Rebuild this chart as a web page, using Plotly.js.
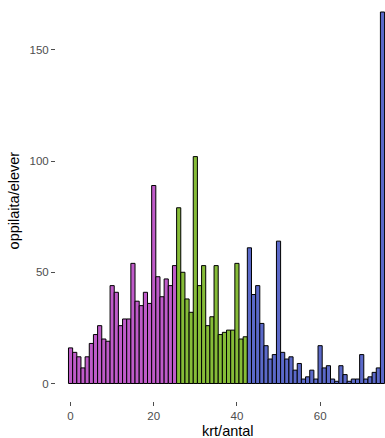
<!DOCTYPE html>
<html>
<head>
<meta charset="utf-8">
<script src="https://cdn.plot.ly/plotly-3.0.1.min.js"></script>
<style>html,body{margin:0;padding:0;background:#fff;}#chart{width:385px;height:438px;}</style>
</head>
<body>
<div id="chart"></div>
<script>
const xGroup1 = [0,1,2,3,4,5,6,7,8,9,10,11,12,13,14,15,16,17,18,19,20,21,22,23,24,25];
const yGroup1 = [16,14,12,7,12,18,22,26,20,19,44,41,26,29,29,54,37,35,41,36,89,48,39,47,44,53];
const xGroup2 = [26,27,28,29,30,31,32,33,34,35,36,37,38,39,40,41,42];
const yGroup2 = [79,50,38,32,102,44,53,26,30,53,22,23,24,24,54,20,21];
const xGroup3 = [43,44,45,46,47,48,49,50,51,52,53,54,55,56,57,58,59,60,61,62,63,64,65,66,67,68,69,70,71,72,73,74,75];
const yGroup3 = [61,40,44,27,17,11,13,64,14,11,12,6,9,2,3,6,2,17,7,8,2,1,8,4,1,2,2,13,2,3,5,7,167];
const xTicks = [0,20,40,60];
const yTicks = [0,50,100,150];
const groupColors = ['#BF5BC9','#86BC38','#5B69C9'];

const mk = (x, y, c) => ({
  type: 'bar', x: x, y: y,
  marker: {color: c, line: {color: '#000', width: 1}},
  width: 1, showlegend: false, hoverinfo: 'x+y'
});

const data = [mk(xGroup1, yGroup1, groupColors[0]), mk(xGroup2, yGroup2, groupColors[1]), mk(xGroup3, yGroup3, groupColors[2])];

const tickFont = {family: 'Liberation Sans, Arial, sans-serif', size: 11.5, color: '#4d4d4d'};
const titleFont = {family: 'Liberation Sans, Arial, sans-serif', size: 14.5, color: '#000'};

const layout = {
  width: 385, height: 438,
  margin: {l: 56, r: 0, t: 0, b: 37, pad: 0},
  paper_bgcolor: '#fff', plot_bgcolor: '#fff',
  bargap: 0,
  xaxis: {
    range: [-3.5, 75.6], tickvals: xTicks, ticktext: xTicks.map(String),
    ticks: 'outside', ticklen: 4, tickcolor: '#4d4d4d', tickwidth: 1,
    showgrid: false, zeroline: false, showline: false,
    tickfont: tickFont, automargin: false
  },
  yaxis: {
    range: [-7.87, 172.4], tickvals: yTicks, ticktext: yTicks.map(String),
    ticks: 'outside', ticklen: 4, tickcolor: '#4d4d4d', tickwidth: 1,
    showgrid: false, zeroline: false, showline: false,
    tickfont: tickFont, automargin: false
  },
  annotations: [
    {text: 'krt/antal', xref: 'paper', yref: 'paper', x: 0.523, y: -0.075,
     xanchor: 'center', yanchor: 'middle', showarrow: false, font: titleFont},
    {text: 'oppilaita/elever', xref: 'paper', yref: 'paper', x: -0.128, y: 0.50,
     xanchor: 'center', yanchor: 'middle', textangle: -90, showarrow: false, font: titleFont}
  ]
};

Plotly.newPlot('chart', data, layout, {displayModeBar: false, staticPlot: true});
</script>
</body>
</html>
